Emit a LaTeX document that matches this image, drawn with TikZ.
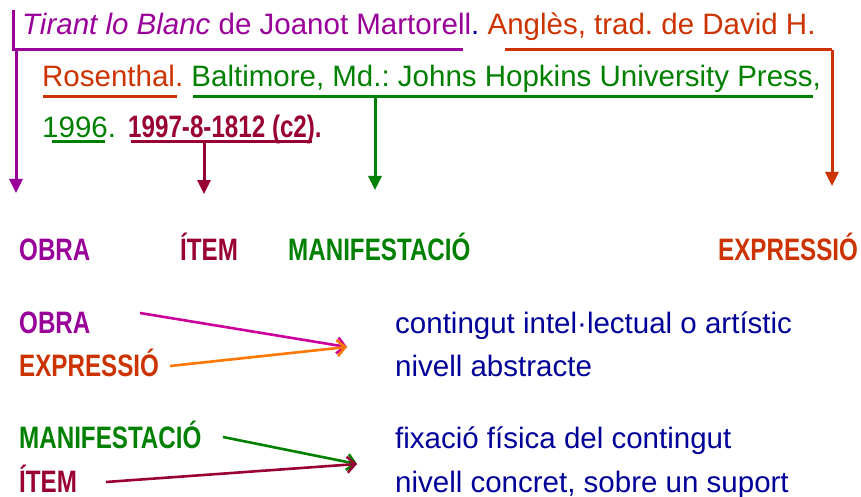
\documentclass[tikz,border=0pt]{standalone}
\usepackage{fontspec}
\setmainfont{Liberation Sans}
\newfontfamily\narrowf{Liberation Sans}[FakeStretch=0.78]
\usetikzlibrary{arrows.meta}
\frenchspacing
\definecolor{cpurple}{HTML}{990099}
\definecolor{corange}{HTML}{CC3300}
\definecolor{cgreen}{HTML}{008000}
\definecolor{cmaroon}{HTML}{990033}
\definecolor{cblue}{HTML}{000099}
\definecolor{cmagenta}{HTML}{CC0099}
\definecolor{carrow}{HTML}{FF7700}
\tikzset{
  cite/.style={anchor=base west, inner sep=0pt, font=\fontsize{29.5}{34}\selectfont},
  lab/.style={anchor=base west, inner sep=0pt, font=\narrowf\bfseries\fontsize{31}{35}\selectfont},
  desc/.style={anchor=base west, inner sep=0pt, text=cblue, font=\fontsize{29.5}{34}\selectfont},
  brk/.style={line width=3pt},
  brkarrow/.style={line width=3pt, -{Triangle[length=14pt,width=13pt]}},
  relarrow/.style={line width=2.6pt, -{Straight Barb[length=8pt,width=16pt]}}
}
\begin{document}
\frenchspacing
\begin{tikzpicture}[x=1pt,y=-1pt]
\useasboundingbox (0,0) rectangle (861,497);
% citation
\node[cite] (l1) at (22,35) {\textcolor{cpurple}{\itshape Tirant lo Blanc} \textcolor{cpurple}{de Joanot Martorell}\textcolor{cblue}{.} \textcolor{corange}{Anglès, trad. de David H.}};
\node[cite] (l2) at (42,87) {\textcolor{corange}{Rosenthal.} \textcolor{cgreen}{Baltimore, Md.: Johns Hopkins University Press,}};
\node[cite] (l3a) at (42,138) {\textcolor{cgreen}{1996.}};
\node[lab,text=cmaroon] (l3b) at (128,138) {1997-8-1812 (c2).};
% coordinates of brackets
\coordinate (p1) at (13,10);
\coordinate (p2) at (13,50);
\coordinate (p3) at (463,50);
\coordinate (p4) at (16,50);
\coordinate (p5) at (16,193);
\coordinate (o1) at (505,50);
\coordinate (o2) at (832,50);
\coordinate (o3) at (832,186);
\coordinate (r1) at (43,97);
\coordinate (r2) at (177,97);
\coordinate (g1) at (193,97);
\coordinate (g2) at (813,97);
\coordinate (g3) at (375,97);
\coordinate (g4) at (375,190);
\coordinate (y1) at (52,142);
\coordinate (y2) at (105,142);
\coordinate (m1) at (131,142);
\coordinate (m2) at (312,142);
\coordinate (m3) at (204,142);
\coordinate (m4) at (204,194);
\draw[brk,cpurple] (p1) -- (p2) -- (p3);
\draw[brkarrow,cpurple] (p4) -- (p5);
\draw[brk,corange] (o1) -- (o2);
\draw[brkarrow,corange] (o2) -- (o3);
\draw[brk,corange] (r1) -- (r2);
\draw[brk,cgreen] (g1) -- (g2);
\draw[brkarrow,cgreen] (g3) -- (g4);
\draw[brk,cgreen] (y1) -- (y2);
\draw[brk,cmaroon] (m1) -- (m2);
\draw[brkarrow,cmaroon] (m3) -- (m4);
% labels row
\node[lab,text=cpurple] (obra1) at (19,260) {OBRA};
\node[lab,text=cmaroon] (item1) at (180,260) {ÍTEM};
\node[lab,text=cgreen] (manif1) at (288,260) {MANIFESTACIÓ};
\node[lab,text=corange] (expr1) at (718,260) {EXPRESSIÓ};
% lower part
\node[lab,text=cpurple] (obra2) at (19,333) {OBRA};
\node[lab,text=corange] (expr2) at (19,376) {EXPRESSIÓ};
\node[lab,text=cgreen] (manif2) at (19,448) {MANIFESTACIÓ};
\node[lab,text=cmaroon] (item2) at (19,492) {ÍTEM};
\node[desc] (d1) at (395,333) {contingut intel·lectual o artístic};
\node[desc] (d2) at (395,376) {nivell abstracte};
\node[desc] (d3) at (395,448) {fixació física del contingut};
\node[desc] (d4) at (395,492) {nivell concret, sobre un suport};
\coordinate (t1) at (347,347);
\coordinate (t2) at (357,464);
\draw[relarrow,cmagenta] (140,313) -- (t1);
\draw[relarrow,carrow] (170,366) -- (t1);
\draw[relarrow,cgreen] (223,437) -- (t2);
\draw[relarrow,cmaroon] (106,482) -- (t2);
\end{tikzpicture}
\end{document}
